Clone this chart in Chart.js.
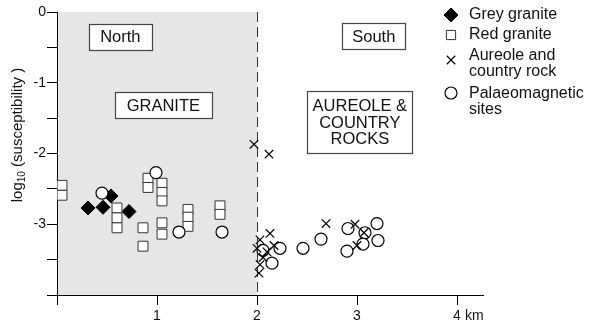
<!DOCTYPE html>
<html>
<head>
<meta charset="utf-8">
<script src="https://cdn.jsdelivr.net/npm/chart.js@4"></script>
<style>
  html, body { margin: 0; padding: 0; background: #fff; }
  #wrap { width: 593px; height: 326px; }
</style>
</head>
<body>
<div id="wrap"><canvas id="chart" width="593" height="326"></canvas></div>
<script>
// distance along profile (km) and log10 susceptibility
const greyX = [0.31, 0.46, 0.54, 0.72];
const greyY = [-2.77, -2.76, -2.60, -2.82];

const redX = [0.05, 0.05, 0.60, 0.60, 0.60, 0.86, 0.86, 0.91, 0.91,
              1.05, 1.05, 1.05, 1.05, 1.05, 1.31, 1.31, 1.31, 1.63, 1.63];
const redY = [-2.45, -2.59, -2.77, -2.91, -3.05, -3.05, -3.31, -2.35, -2.48,
              -2.42, -2.55, -2.67, -2.98, -3.14, -2.79, -2.90, -3.03, -2.74, -2.86];

const aurX = [1.97, 2.12, 2.69, 2.98, 3.07, 3.00, 2.02, 2.03, 2.06, 2.10,
              2.00, 2.03, 2.13, 2.17];
const aurY = [-1.87, -2.01, -2.99, -3.00, -3.12, -3.30, -3.69, -3.57, -3.47, -3.39,
              -3.34, -3.22, -3.13, -3.30];

const palX = [0.45, 0.99, 1.22, 1.65, 2.23, 2.15, 2.06, 2.46, 2.64, 2.91,
              2.90, 3.08, 3.06, 3.20, 3.21];
const palY = [-2.56, -2.27, -3.11, -3.11, -3.34, -3.55, -3.37, -3.34, -3.21, -3.06,
              -3.38, -3.12, -3.28, -2.99, -3.23];

const xTicks = [0, 1, 2, 3, 4];
const xTickLabels = ['', '1', '2', '3', '4'];
const yTicks = [-4, -3.5, -3, -2.5, -2, -1.5, -1, -0.5, 0];
const yTickLabels = ['', '', '-3', '', '-2', '', '-1', '', '0'];

const seriesNames = ['Grey granite', 'Red granite', 'Aureole and\ncountry rock', 'Palaeomagnetic\nsites'];
const regionLabels = ['North', 'GRANITE', 'South', 'AUREOLE &\nCOUNTRY\nROCKS'];
const graniteLimit = 2;

const FONT = '"Liberation Sans", Arial, sans-serif';

function pts(xs, ys) {
  return xs.map((x, i) => ({ x: x, y: ys[i] }));
}

const datasets = [
  { label: seriesNames[0], data: pts(greyX, greyY), pointStyle: 'rectRot', pointRadius: 7,
    backgroundColor: '#000', borderColor: '#000', borderWidth: 1, order: 4 },
  { label: seriesNames[1], data: pts(redX, redY), pointStyle: 'rect', pointRadius: 7,
    backgroundColor: '#fff', borderColor: '#333', borderWidth: 1, order: 3 },
  { label: seriesNames[2], data: pts(aurX, aurY), pointStyle: 'crossRot', pointRadius: 6,
    backgroundColor: '#000', borderColor: '#000', borderWidth: 1.2, order: 1 },
  { label: seriesNames[3], data: pts(palX, palY), pointStyle: 'circle', pointRadius: 6,
    backgroundColor: '#fff', borderColor: '#000', borderWidth: 1.2, order: 2 }
];

// box placement (data coords) and size (px)
const boxes = [
  { x: 0.633, y: -0.347, w: 63, h: 26 },
  { x: 1.063, y: -1.314, w: 97, h: 26 },
  { x: 3.168, y: -0.343, w: 63, h: 26 },
  { x: 3.028, y: -1.558, w: 105, h: 62 }
];

const decor = {
  id: 'decor',
  beforeDraw(chart) {
    const { ctx, chartArea: a, scales: { x } } = chart;
    ctx.save();
    ctx.fillStyle = '#e6e6e6';
    ctx.fillRect(x.getPixelForValue(0), a.top, x.getPixelForValue(graniteLimit) - x.getPixelForValue(0), a.bottom - a.top);
    ctx.restore();
  },
  beforeDatasetsDraw(chart) {
    const { ctx, chartArea: a, scales: { x } } = chart;
    const px = Math.round(x.getPixelForValue(graniteLimit)) + 0.5;
    ctx.save();
    ctx.strokeStyle = '#333';
    ctx.lineWidth = 1;
    ctx.setLineDash([10, 5]);
    ctx.beginPath();
    ctx.moveTo(px, a.top);
    ctx.lineTo(px, a.bottom);
    ctx.stroke();
    ctx.restore();
  },
  afterDraw(chart) {
    const { ctx, scales: { x, y } } = chart;
    ctx.save();

    // region boxes
    boxes.forEach((b, i) => {
      const cx = x.getPixelForValue(b.x), cy = y.getPixelForValue(b.y);
      const l = Math.round(cx - b.w / 2) + 0.5, t = Math.round(cy - b.h / 2) + 0.5;
      ctx.fillStyle = '#fff';
      ctx.fillRect(l, t, b.w, b.h);
      ctx.strokeStyle = '#444';
      ctx.lineWidth = 1.2;
      ctx.strokeRect(l, t, b.w, b.h);
      const lines = regionLabels[i].split('\n');
      ctx.fillStyle = '#111';
      ctx.font = '16.5px ' + FONT;
      ctx.textAlign = 'center';
      ctx.textBaseline = 'middle';
      const lh = 16.5;
      lines.forEach((s, k) => {
        ctx.fillText(s, cx, cy + (k - (lines.length - 1) / 2) * lh + 1);
      });
    });

    // legend
    const rows = [15, 35, 56, 94];
    const mY = [15, 35, 60, 93];
    datasets.forEach((d, i) => {
      ctx.fillStyle = d.backgroundColor;
      ctx.strokeStyle = d.borderColor;
      ctx.lineWidth = d.borderWidth;
      Chart.helpers.drawPoint(ctx, {
        pointStyle: d.pointStyle,
        radius: d.pointStyle === 'rect' ? 6.5 : d.pointRadius,
        borderWidth: d.borderWidth, rotation: 0
      }, 451, mY[i]);
      ctx.fillStyle = '#111';
      ctx.font = '16px ' + FONT;
      ctx.textAlign = 'left';
      ctx.textBaseline = 'middle';
      d.label.split('\n').forEach((s, k) => {
        ctx.fillText(s, 469, rows[i] + k * 15.5);
      });
    });

    // km unit after the last x tick
    ctx.font = '14px ' + FONT;
    ctx.textAlign = 'left';
    ctx.textBaseline = 'top';
    ctx.fillStyle = '#111';
    ctx.fillText(' km', x.getPixelForValue(4) + 4, 309);

    // y axis title with subscript
    ctx.translate(18, 135);
    ctx.rotate(-Math.PI / 2);
    ctx.textBaseline = 'middle';
    ctx.textAlign = 'left';
    const f1 = '15px ' + FONT, f2 = '10px ' + FONT;
    ctx.font = f1; const w1 = ctx.measureText('log').width;
    const rest = ' (susceptibility )';
    const w3 = ctx.measureText(rest).width;
    ctx.font = f2; const w2 = ctx.measureText('10').width;
    const sx = -(w1 + w2 + w3) / 2;
    ctx.font = f1; ctx.fillText('log', sx, 0);
    ctx.font = f2; ctx.fillText('10', sx + w1, 4);
    ctx.font = f1; ctx.fillText(rest, sx + w1 + w2, 0);
    ctx.restore();
  }
};

new Chart(document.getElementById('chart'), {
  type: 'scatter',
  data: { datasets: datasets },
  plugins: [decor],
  options: {
    responsive: false,
    animation: false,
    layout: { padding: { top: 12, right: 110, left: 0, bottom: 0 } },
    plugins: { legend: { display: false }, tooltip: { enabled: false } },
    scales: {
      x: {
        type: 'linear', min: 0, max: 4.26,
        afterBuildTicks: s => { s.ticks = xTicks.map(v => ({ value: v })); },
        afterFit: s => { s.height = 31; },
        grid: { drawOnChartArea: false, drawTicks: true, tickLength: 10, color: '#000' },
        border: { display: true, color: '#000', width: 1 },
        ticks: {
          color: '#111', padding: 3, font: { family: FONT, size: 14 },
          callback: (v) => xTickLabels[xTicks.indexOf(v)] ?? ''
        }
      },
      y: {
        type: 'linear', min: -4, max: 0,
        afterBuildTicks: s => { s.ticks = yTicks.map(v => ({ value: v })); },
        afterFit: s => { s.width = 57; },
        grid: { drawOnChartArea: false, drawTicks: true, tickLength: 10, color: '#000' },
        border: { display: true, color: '#000', width: 1 },
        ticks: {
          color: '#111', padding: 1, font: { family: FONT, size: 14 },
          callback: (v) => yTickLabels[yTicks.indexOf(v)] ?? ''
        }
      }
    }
  }
});
</script>
</body>
</html>
